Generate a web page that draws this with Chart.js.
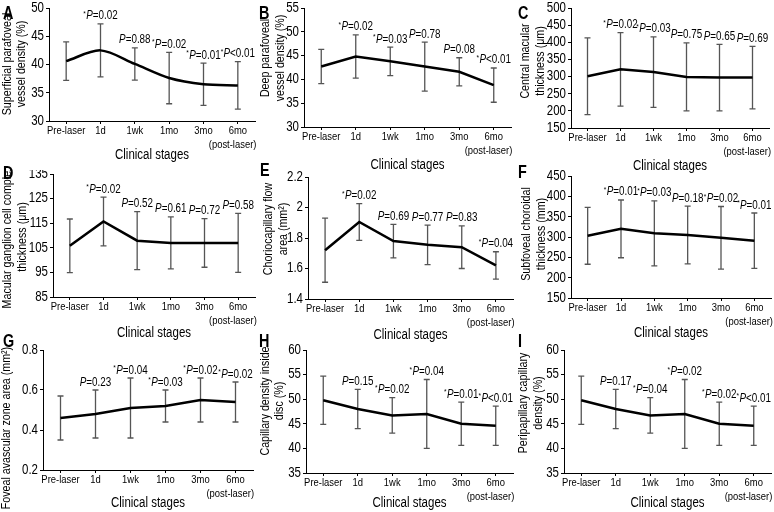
<!DOCTYPE html>
<html><head><meta charset="utf-8">
<script src="https://cdn.jsdelivr.net/npm/chart.js@4/dist/chart.umd.min.js"></script>
<style>
html,body{margin:0;padding:0;background:#fff;overflow:hidden;}
#wrap{position:relative;width:774px;height:512px;overflow:hidden;background:#fff;}
canvas{position:absolute;}
.lt{position:absolute;font:bold 18px 'Liberation Sans',Arial,sans-serif;line-height:17px;color:#000;transform:scaleX(0.8);transform-origin:0 0;}
</style></head><body><div id="wrap"></div>
<script>
// Narrow-text rendering (reference uses a condensed sans); scales glyphs horizontally around their anchor.
(function () {
  const NARROW = 0.82;
  const P = CanvasRenderingContext2D.prototype;
  const ofill = P.fillText, omeasure = P.measureText;
  P.fillText = function (t, x, y, mw) {
    this.save(); this.translate(x, y); this.scale(NARROW, 1);
    if (mw !== undefined && mw !== null) ofill.call(this, t, 0, 0, mw / NARROW); else ofill.call(this, t, 0, 0);
    this.restore();
  };
  P.measureText = function (t) {
    const m = omeasure.call(this, t);
    return {
      width: m.width * NARROW,
      actualBoundingBoxLeft: m.actualBoundingBoxLeft * NARROW,
      actualBoundingBoxRight: m.actualBoundingBoxRight * NARROW,
      actualBoundingBoxAscent: m.actualBoundingBoxAscent,
      actualBoundingBoxDescent: m.actualBoundingBoxDescent,
      fontBoundingBoxAscent: m.fontBoundingBoxAscent,
      fontBoundingBoxDescent: m.fontBoundingBoxDescent
    };
  };
})();

const FONT = "'Liberation Sans',Arial,sans-serif";
const categories = ['Pre-laser', '1d', '1wk', '1mo', '3mo', ['6mo', '(post-laser)    ']];

// A: Superficial parafoveal vessel density (%)
const meanA = [40.6, 42.5, 40.1, 37.6, 36.5, 36.3];
const sdA   = [3.4, 4.7, 2.85, 4.55, 3.75, 4.2];
const pA    = ['', '*P=0.02', 'P=0.88', '*P=0.02', '*P=0.01', '*P<0.01'];
// B: Deep parafoveal vessel density (%)
const meanB = [42.7, 44.8, 43.8, 42.7, 41.6, 38.8];
const sdB   = [3.6, 4.55, 3.0, 5.15, 2.95, 3.6];
const pB    = ['', '*P=0.02', '*P=0.03', 'P=0.78', 'P=0.08', '*P<0.01'];
// C: Central macular thickness (μm)
const meanC = [301, 321, 313, 299, 297, 297];
const sdC   = [112, 107, 103, 99, 97, 91];
const pC    = ['', '*P=0.02', '*P=0.03', 'P=0.75', 'P=0.65', 'P=0.69'];
// D: Macular ganglion cell complex thickness (μm)
const meanD = [105.8, 115.7, 107.9, 107.0, 107.0, 107.0];
const sdD   = [10.9, 9.9, 11.8, 10.6, 9.9, 12.0];
const pD    = ['', '*P=0.02', 'P=0.52', 'P=0.61', 'P=0.72', 'P=0.58'];
// E: Choriocapillary flow area (mm²)
const meanE = [1.72, 1.905, 1.78, 1.755, 1.74, 1.62];
const sdE   = [0.21, 0.12, 0.11, 0.13, 0.14, 0.09];
const pE    = ['', '*P=0.02', 'P=0.69', 'P=0.77', 'P=0.83', '*P=0.04'];
// F: Subfoveal choroidal thickness (mm)
const meanF = [303, 320, 309, 305, 298, 291];
const sdF   = [70, 71, 80, 71, 77, 68];
const pF    = ['', '*P=0.01', '*P=0.03', 'P=0.18', '*P=0.02', '*P=0.01'];
// G: Foveal avascular zone area (mm²)
const meanG = [0.46, 0.48, 0.51, 0.52, 0.55, 0.54];
const sdG   = [0.11, 0.12, 0.15, 0.08, 0.11, 0.10];
const pG    = ['', 'P=0.23', '*P=0.04', '*P=0.03', '*P=0.02', '*P=0.02'];
// H: Capillary density inside disc (%)
const meanH = [49.8, 48.0, 46.7, 47.0, 45.0, 44.6];
const sdH   = [4.9, 4.0, 3.6, 7.0, 4.4, 4.0];
const pH    = ['', 'P=0.15', '*P=0.02', '*P=0.04', '*P=0.01', '*P<0.01'];
// I: Peripapillary capillary density (%)
const meanI = [49.8, 48.0, 46.7, 47.0, 45.0, 44.6];
const sdI   = [4.9, 4.0, 3.6, 7.0, 4.4, 4.0];
const pI    = ['', 'P=0.17', '*P=0.04', '*P=0.02', '*P=0.02', '*P<0.01'];

const xTitle = 'Clinical stages';
const yTitles = {
  A: ['Superficial parafoveal', 'vessel density (%)'],
  B: ['Deep parafoveal', 'vessel density (%)'],
  C: ['Central macular', 'thickness (μm)'],
  D: ['Macular ganglion cell complex', 'thickness (μm)'],
  E: ['Choriocapillary flow', 'area (mm²)'],
  F: ['Subfoveal choroidal', 'thickness (mm)'],
  G: ['Foveal avascular zone area (mm²)'],
  H: ['Capillary density inside', 'disc (%)'],
  I: ['Peripapillary capillary', 'density (%)']
};
const yRanges = {
  A: [30, 50, 5], B: [30, 55, 5], C: [150, 500, 50], D: [85, 135, 10], E: [1.4, 2.2, 0.2],
  F: [150, 450, 50], G: [0.2, 0.8, 0.2], H: [35, 60, 5], I: [35, 60, 5]
};

// layout (not data): plot box [left, top, right, bottom] within each canvas, etc.
const layoutCfg = {
  A: {col:0,row:0,box:[49,8,255,121],tGap:34,yt:[7.5,21.5],yc:64,smooth:true, letter:[3,5]},
  B: {col:1,row:0,box:[46,8,253,127],tGap:38,yt:[7,22],yc:58, letter:[259,5]},
  C: {col:2,row:0,box:[55,8,253,128],tGap:38,yt:[9,24],yc:61, letter:[518,5]},
  D: {col:0,row:1,box:[53,4,255,127],tGap:36,yt:[7,22],yc:67, letter:[3,165]},
  E: {col:1,row:1,box:[50,7,255,129],tGap:36,yt:[10,25],yc:59, letter:[260,162]},
  F: {col:2,row:1,box:[55,6,255,128],tGap:35,yt:[10,25],yc:64, letter:[518,164]},
  G: {col:0,row:2,box:[43,10,253,130],tGap:33,yt:[6],yc:88, letter:[3,333]},
  H: {col:1,row:2,box:[48,10,255,133],tGap:30,yt:[7,21],yc:61, letter:[259,333]},
  I: {col:2,row:2,box:[48,10,255,133],tGap:30,yt:[7,22],yc:63, letter:[518,333]}
};
const series = {
  A:[meanA,sdA,pA], B:[meanB,sdB,pB], C:[meanC,sdC,pC], D:[meanD,sdD,pD], E:[meanE,sdE,pE],
  F:[meanF,sdF,pF], G:[meanG,sdG,pG], H:[meanH,sdH,pH], I:[meanI,sdI,pI]
};
const rowTops = [0, 170, 340];
const colLefts = [0, 258, 516];
const CW = 264;

function drawP(ctx, text, cx, yBase) {
  if (!text) return;
  const star = text.startsWith('*');
  const rest = text.replace('*', '').slice(1);
  const fMain = `12px ${FONT}`, fIt = `italic 12px ${FONT}`, fStar = `8px ${FONT}`;
  ctx.font = fStar; const ws = star ? ctx.measureText('*').width + 0.3 : 0;
  ctx.font = fIt; const wp = ctx.measureText('P').width;
  ctx.font = fMain; const wr = ctx.measureText(rest).width;
  let x = cx - (ws + wp + wr) / 2;
  ctx.textBaseline = 'alphabetic'; ctx.textAlign = 'left'; ctx.fillStyle = '#000';
  if (star) { ctx.font = fStar; ctx.fillText('*', x, yBase - 3.5); x += ws; }
  ctx.font = fIt; ctx.fillText('P', x, yBase); x += wp;
  ctx.font = fMain; ctx.fillText(rest, x, yBase);
}

const wrap = document.getElementById('wrap');
Object.keys(layoutCfg).forEach(key => {
  const L = layoutCfg[key];
  const [mean, sd, pl] = series[key];
  const [yMin, yMax, yStep] = yRanges[key];
  const [bl, bt, br, bb] = L.box;
  const H = bb + L.tGap + 7;
  const cv = document.createElement('canvas');
  cv.width = CW; cv.height = H;
  cv.style.left = colLefts[L.col] + 'px';
  cv.style.top = rowTops[L.row] + 'px';
  cv.style.width = CW + 'px'; cv.style.height = H + 'px';
  wrap.appendChild(cv);

  const lt = document.createElement('div');
  lt.className = 'lt'; lt.textContent = key;
  lt.style.left = L.letter[0] + 'px'; lt.style.top = L.letter[1] + 'px';
  wrap.appendChild(lt);

  const errPlugin = {
    id: 'err' + key,
    beforeDatasetsDraw(chart) {
      const ctx = chart.ctx, xs = chart.scales.x, ys = chart.scales.y;
      ctx.save();
      ctx.strokeStyle = '#555'; ctx.lineWidth = 1.3;
      mean.forEach((m, i) => {
        const x = xs.getPixelForValue(i);
        const yt = ys.getPixelForValue(m + sd[i]);
        const yb = ys.getPixelForValue(m - sd[i]);
        ctx.beginPath();
        ctx.moveTo(x, yt); ctx.lineTo(x, yb);
        ctx.moveTo(x - 3, yt); ctx.lineTo(x + 3, yt);
        ctx.moveTo(x - 3, yb); ctx.lineTo(x + 3, yb);
        ctx.stroke();
      });
      ctx.restore();
    },
    afterDatasetsDraw(chart) {
      const ctx = chart.ctx, xs = chart.scales.x, ys = chart.scales.y;
      ctx.save();
      mean.forEach((m, i) => {
        const x = xs.getPixelForValue(i);
        const yt = ys.getPixelForValue(m + sd[i]);
        drawP(ctx, pl[i], x, yt - 4.5);
      });
      ctx.restore();
    },
    afterDraw(chart) {
      const ctx = chart.ctx;
      ctx.save();
      ctx.fillStyle = '#000';
      ctx.font = `13px ${FONT}`;
      ctx.textAlign = 'center'; ctx.textBaseline = 'middle';
      yTitles[key].forEach((t, j) => {
        ctx.save();
        ctx.translate(L.yt[j], L.yc);
        ctx.rotate(-Math.PI / 2);
        ctx.fillText(t, 0, 0);
        ctx.restore();
      });
      ctx.restore();
    }
  };

  new Chart(cv.getContext('2d'), {
    type: 'line',
    data: {
      labels: categories,
      datasets: [{
        data: mean, borderColor: '#000', borderWidth: 2.5, pointRadius: 0, fill: false,
        tension: L.smooth ? 0.3 : 0
      }]
    },
    options: {
      responsive: false, animation: false, devicePixelRatio: 1,
      layout: { padding: { left: 0, top: bt, right: CW - br, bottom: 0 } },
      plugins: { legend: { display: false }, tooltip: { enabled: false } },
      scales: {
        x: {
          type: 'category', offset: true,
          grid: { display: true, drawOnChartArea: false, color: '#000', tickLength: 3 },
          border: { color: '#000', width: 1 },
          ticks: { color: '#000', font: { family: FONT, size: 11.5, lineHeight: 1.2 }, padding: 0, maxRotation: 0, autoSkip: false },
          title: { display: true, text: xTitle, color: '#000', font: { family: FONT, size: 14, lineHeight: 1 }, padding: { top: 0, bottom: 0 } },
          afterFit(s) { s.height = H - bb; s.paddingLeft = 0; s.paddingRight = 0; }
        },
        y: {
          min: yMin, max: yMax,
          grid: { display: true, drawOnChartArea: false, color: '#000', tickLength: 3 },
          border: { color: '#000', width: 1 },
          ticks: { stepSize: yStep, color: '#000', font: { family: FONT, size: 14, lineHeight: 1 }, padding: 2,
                   callback: v => String(Math.round(v * 1000) / 1000) },
          afterFit(s) { s.width = bl; s.paddingTop = 0; s.paddingBottom = 0; }
        }
      }
    },
    plugins: [errPlugin]
  });
});
</script>
</body></html>
